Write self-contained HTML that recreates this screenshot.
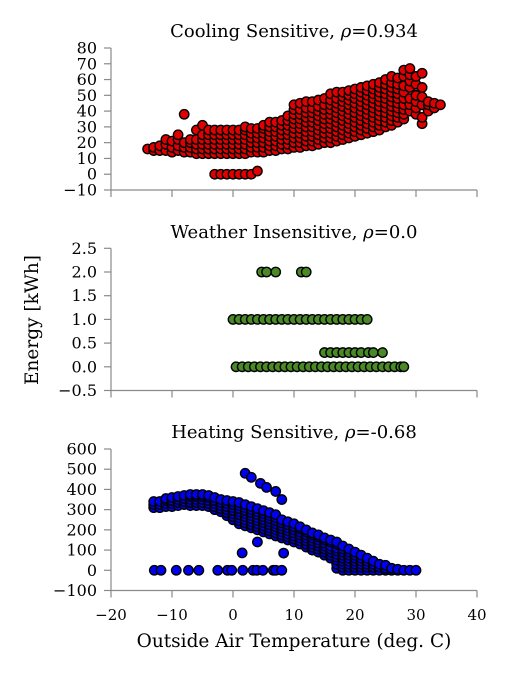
<!DOCTYPE html>
<html><head><meta charset="utf-8"><style>
html,body{margin:0;padding:0;background:#fff;}
svg{display:block;font-family:"DejaVu Serif","Liberation Serif",serif;}
</style></head><body>
<svg id="chart" width="508" height="675" viewBox="0 0 508 675"></svg>
<script>
// ---- data ----
const xTicks = [-20,-10,0,10,20,30,40];
const coolTicks = [-10,0,10,20,30,40,50,60,70,80];
const weatherTicks = [-0.5,0.0,0.5,1.0,1.5,2.0,2.5];
const heatTicks = [-100,0,100,200,300,400,500,600];

const coolTemps = [-14,-13,-12,-11,-10,-9,-8,-7,-6,-5,-4,-3,-2,-1,0,1,2,3,4,5,6,7,8,9,10,11,12,13,14,15,16,17,18,19,20,21,22,23,24,25,26,27,28,29,30,31,32,33,34];
const coolEnergy = [
[16],[15,17],[15,18],[15,19,22],[14,17,21],[15,18,22,25],[14,17,20,38],[14,17,20,22],
[13,16,19,22,28],[13,16,19,22,25,31],[13,16,19,22,25,28],[13,16,19,22,25,28,0],[13,16,19,22,25,28,0],
[13,16,19,22,25,28,0],[13,16,19,22,25,28,0],[13,16,19,22,25,28,0],[13,16,19,22,25,28,30,0],[14,17,20,23,26,29,0],
[14,17,20,23,26,29,2],[14,17,20,23,26,29,31],[15,18,21,24,27,30,33],[15,18,21,24,27,30,33],[16,19,22,25,28,31,34],
[16,19,22,25,28,31,34,37],[17,20,23,26,29,32,35,38,41,44],[17,20,23,26,29,32,35,38,41,45],[18,21,24,27,30,33,36,39,42,46],
[18,21,24,27,30,33,36,39,42,46],[19,22,25,28,31,34,37,40,43,47],[20,23,26,29,32,35,38,41,44,48],
[20,23,26,29,32,35,38,41,44,47,51],[21,24,27,30,33,36,39,42,45,48,52],[22,25,28,31,34,37,40,43,46,49,52],
[23,26,29,32,35,38,41,44,47,50,53],[24,27,30,33,36,39,42,45,48,51,54],[25,28,31,34,37,40,43,46,49,52,55],
[26,29,32,35,38,41,44,47,50,53,56],[27,30,33,36,39,42,45,48,51,54,57],[28,31,34,37,40,43,46,49,52,55,58],
[30,33,36,39,42,45,48,51,54,57,60],[31,34,37,40,43,46,49,52,55,58,62],[33,36,39,42,45,48,51,54,57,61],
[35,38,41,44,48,52,56,62,66],[40,44,48,55,59,63,67],[38,42,46,50,57,62],[32,36,44,49,55,64],[40,44,46],[42,45],[44]
];

const weatherT = [4.7,5.5,7,11.2,12,
0,1,2,3,4,5,6,7,8,9,10,11,12,13,14,15,16,17,18,19,20,21,22,
15,16,17,18,19,20,21,22.2,23,24.5,
0.5,1.5,2.5,3.5,4.5,5.5,6.5,7.5,8.5,9.5,10.5,11.5,12.5,13.5,14.5,15.5,16.5,17.5,18.5,19.5,20.5,21.5,22.5,23.5,24.5,25.5,26.5,27.5,28];
const weatherE = [2,2,2,2,2,
1,1,1,1,1,1,1,1,1,1,1,1,1,1,1,1,1,1,1,1,1,1,1,
0.3,0.3,0.3,0.3,0.3,0.3,0.3,0.3,0.3,0.3,
0,0,0,0,0,0,0,0,0,0,0,0,0,0,0,0,0,0,0,0,0,0,0,0,0,0,0,0,0];

const heatTemps = [-13,-12,-11,-10,-9,-8,-7,-6,-5,-4,-3,-2,-1,0,1,2,3,4,5,6,7,8,9,10,11,12,13,14,15,16,17,18,19,20,21,22,23,24,25,26,27,28,29,30];
const heatEnergy = [
[310,325,340],[310,325,340],[315,330,345,355],[315,330,345,360],[320,335,350,365],[325,340,355,370],
[320,335,350,365,375],[320,335,350,365,375],[320,335,350,365,375],[315,330,345,360,370],[300,315,330,345,360],
[290,305,320,335,350],[270,285,300,315,330,345],[250,265,280,295,310,325,340],[230,245,260,275,290,305,320,335],
[220,235,250,265,280,295,310,325],[210,225,240,255,270,285,300,315],[200,215,230,245,260,275,290,305],
[190,205,220,235,250,265,280,295],[180,195,210,225,240,255,270,285],[170,185,200,215,230,245,260,275],
[160,175,190,205,220,235,250],[150,165,180,195,210,225,240],[140,155,170,185,200,215,230],[130,145,160,175,190,205,215],
[115,130,145,160,175,190,200],[100,115,130,145,160,175,185],[90,105,120,135,150,165,175],[75,90,105,120,135,150,160],
[60,75,90,105,120,140,150],[10,30,50,65,80,95,110,130,140],[0,15,30,45,60,75,90,105,120],[0,15,30,45,60,75,90,105],
[0,15,30,45,60,75,90],[0,15,30,45,60,75],[0,15,30,45,60],[0,15,30,45],[0,15,30],[0,10,25],[0,10],[0,5],[0],[0],[0]
];
const heatOutT = [2,3,4.5,5.5,7,8,1.5,4,8.3,-12.9,-11.8,-9.3,-7.3,-5.6,-2.5,-0.9,-0.2,1.6,3.3,3.9,4.9,6.6,7,8];
const heatOutE = [480,460,430,410,390,350,86,140,85,0,0,0,0,0,0,0,0,0,0,0,0,0,0,0];

// ---- layout ----
const NS = "http://www.w3.org/2000/svg";
const svg = document.getElementById('chart');
const X0 = 111, X1 = 477, xMin = -20, xMax = 40;
const xs = t => X0 + (t - xMin) / (xMax - xMin) * (X1 - X0);
function el(tag, attrs, parent) {
  const e = document.createElementNS(NS, tag);
  for (const k in attrs) e.setAttribute(k, attrs[k]);
  (parent || svg).appendChild(e);
  return e;
}
const panels = [
  {name:'cooling', top:48, bottom:190, min:-10, max:80, ticks:coolTicks, fmt:v=>v<0?'\u2212'+(-v):String(v), color:'#e00000', title:'Cooling Sensitive, ', rho:'=0.934', ty:37},
  {name:'weather', top:248.3, bottom:390.5, min:-0.5, max:2.5, ticks:weatherTicks, fmt:v=>v<0?'\u2212'+(-v).toFixed(1):v.toFixed(1), color:'#4a8a26', title:'Weather Insensitive, ', rho:'=0.0', ty:238},
  {name:'heating', top:449, bottom:590.5, min:-100, max:600, ticks:heatTicks, fmt:v=>v<0?'\u2212'+(-v):String(v), color:'#0000f0', title:'Heating Sensitive, ', rho:'=-0.68', ty:438}
];
panels.forEach(p => {
  const g = el('g', {});
  
  
  const ys = v => p.bottom - (v - p.min) / (p.max - p.min) * (p.bottom - p.top);
  p.ys = ys; p.g = g;
  const ax = el('g', {stroke:'#8a8a8a','stroke-width':1.2}, g);
  
  
  el('line', {x1:X0, y1:p.top, x2:X0, y2:p.bottom}, ax);
  el('line', {x1:X0, y1:p.bottom, x2:X1, y2:p.bottom}, ax);
  p.ticks.forEach(v => {
    el('line', {x1:X0-7, y1:ys(v), x2:X0, y2:ys(v)}, ax);
    const t = el('text', {x:97, y:ys(v)+5.5, 'text-anchor':'end', 'font-size':16, fill:'#000'}, g);
    
    
    t.textContent = p.fmt(v);
  });
  xTicks.forEach(v => el('line', {x1:xs(v), y1:p.bottom, x2:xs(v), y2:p.bottom+7}, ax));
  const tt = el('text', {x:294, y:p.ty, 'text-anchor':'middle', 'font-size':18, fill:'#000'}, g);
  
  
  tt.appendChild(document.createTextNode(p.title));
  const r = el('tspan', {'font-style':'italic'}, tt); r.textContent = '\u03c1';
  tt.appendChild(document.createTextNode(p.rho));
});
function dot(p, t, v) {
  const c = el('circle', {cx:xs(t), cy:p.ys(v), r:4.7, fill:p.color, stroke:'#000', 'stroke-width':1.4}, p.g);
  
  
}
coolTemps.forEach((t,i) => coolEnergy[i].forEach(v => dot(panels[0], t, v)));
weatherT.forEach((t,i) => dot(panels[1], t, weatherE[i]));
heatTemps.forEach((t,i) => heatEnergy[i].forEach(v => dot(panels[2], t, v)));
heatOutT.forEach((t,i) => dot(panels[2], t, heatOutE[i]));
xTicks.forEach(v => {
  const t = el('text', {x:xs(v), y:620, 'text-anchor':'middle', 'font-size':15, fill:'#000'});
  
  
  t.textContent = v < 0 ? '\u2212' + (-v) : String(v);
});
const xl = el('text', {x:294, y:647, 'text-anchor':'middle', 'font-size':18.5, fill:'#000'});


xl.textContent = 'Outside Air Temperature (deg. C)';
const yl = el('text', {x:0, y:0, 'text-anchor':'middle', 'font-size':18.5, fill:'#000', transform:'translate(38,320) rotate(-90)'});


yl.textContent = 'Energy [kWh]';
</script>
</body></html>
